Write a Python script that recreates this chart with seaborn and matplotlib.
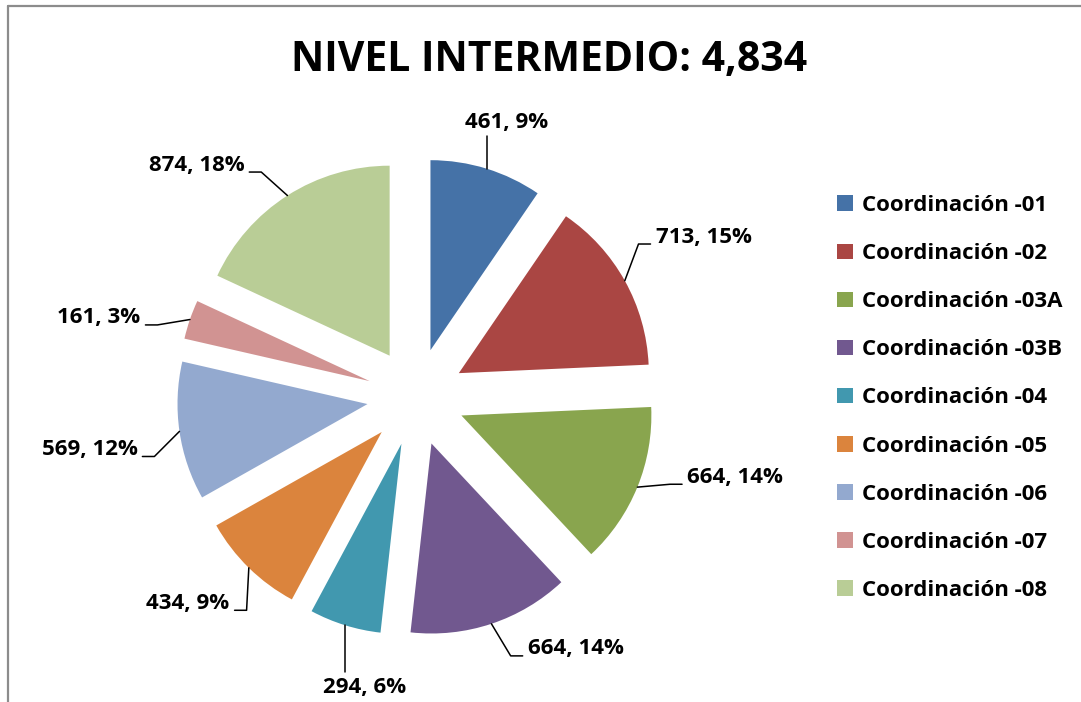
import numpy as np
import seaborn as sns
import matplotlib
matplotlib.use("Agg")
from matplotlib import pyplot as plt
from matplotlib.patches import Patch
from matplotlib.lines import Line2D

# data
coordinaciones = ['Coordinación -01', 'Coordinación -02', 'Coordinación -03A', 'Coordinación -03B',
                  'Coordinación -04', 'Coordinación -05', 'Coordinación -06', 'Coordinación -07',
                  'Coordinación -08']
alumnos = [461, 713, 664, 664, 294, 434, 569, 161, 874]
porcentajes = [9, 15, 14, 14, 6, 9, 12, 3, 18]  # as printed (Excel rounding)

colores = ['#4572A7', '#AA4643', '#89A54E', '#71588F', '#4198AF',
           '#DB843D', '#93A9CF', '#D19392', '#B9CD96']

sns.set_theme(style="white")
plt.rcParams['font.family'] = ['Open Sans', 'DejaVu Sans']
plt.rcParams['text.color'] = 'black'

W, H = 1081, 702
fig = plt.figure(figsize=(W / 100, H / 100), dpi=100)
ax = fig.add_axes([0, 0, 1, 1])

cx, cy = 416, H - 397
radio = 190
sep = 49

wedges, _ = ax.pie(alumnos, colors=colores, startangle=90, counterclock=False,
                   radius=radio, center=(cx, cy), explode=[sep] * len(alumnos),
                   wedgeprops=dict(linewidth=0), frame=True)
ax.set_xlim(0, W)
ax.set_ylim(0, H)
ax.set_aspect('equal')
ax.axis('off')

# data labels with Excel-like leader lines
total = sum(alumnos)
acum = np.cumsum([0] + alumnos)
r_borde = radio + sep
r_label = 280
for i, (v, p) in enumerate(zip(alumnos, porcentajes)):
    ang_e = np.deg2rad(360 * (acum[i] + v / 2) / total)  # clockwise from 12 o'clock
    ang = ang_e - np.deg2rad(4)
    sx, sy = np.sin(ang), np.cos(ang)
    ex, ey = cx + r_borde * np.sin(ang_e), cy + r_borde * np.cos(ang_e)
    lx, ly = cx + r_label * sx, cy + r_label * sy
    txt = f"{v}, {p}%"
    if abs(sx) < 0.3:
        ly = cy + (r_label - 12) * sy if sy > 0 else ly - 2
        ax.plot([ex, ex], [ey, ly], color='black', lw=1.1)
        va = 'bottom' if sy > 0 else 'top'
        ax.text(ex + 20, ly + (3 if sy > 0 else -5), txt, ha='center', va=va, fontsize=16,
                fontweight='bold', color='black')
    else:
        s = 1 if sx > 0 else -1
        kx = lx - s * 12
        ax.plot([ex, kx, lx], [ey, ly, ly], color='black', lw=1.1)
        ax.text(lx + s * 5, ly + 7, txt, ha='left' if s > 0 else 'right', va='center',
                fontsize=16, fontweight='bold', color='black')

fig.text(549 / W, 1 - 60 / H, f"NIVEL INTERMEDIO: {total:,}", ha='center', va='center',
         fontsize=29.5, fontweight='bold', color='black')

handles = [Patch(facecolor=c, edgecolor='none') for c in colores]
leg = ax.legend(handles, coordinaciones, loc='center left',
                bbox_to_anchor=(837 / W, 1 - 398 / H), bbox_transform=fig.transFigure,
                frameon=False, handlelength=0.7, handleheight=0.7,
                handletextpad=0.42, labelspacing=1.22, borderpad=0, borderaxespad=0,
                labelcolor='black',
                prop=dict(family=['Open Sans', 'DejaVu Sans'], weight='bold', size=16))

# chart border (partly cropped in the original)
fig.add_artist(Line2D([8 / W, 1], [1 - 6 / H, 1 - 6 / H], color='#8c8c8c', lw=1.6))
fig.add_artist(Line2D([8 / W, 8 / W], [0, 1 - 6 / H], color='#8c8c8c', lw=1.6))

fig.savefig("out.png", dpi=100, facecolor='white')
